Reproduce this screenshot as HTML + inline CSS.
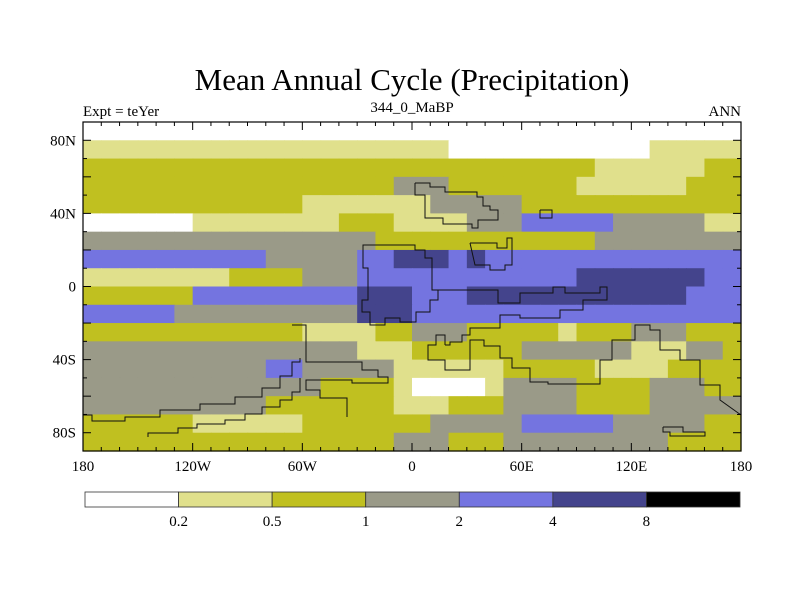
<!DOCTYPE html>
<html><head><meta charset="utf-8"><style>
html,body{margin:0;padding:0;background:#fff}
svg{display:block;font-family:"Liberation Serif",serif}
</style></head><body>
<svg id="chart" width="800" height="600" viewBox="0 0 800 600">
<rect width="800" height="600" fill="#fff"/>
<text x="412" y="90" font-size="31" text-anchor="middle">Mean Annual Cycle (Precipitation)</text>
<text x="83" y="116" font-size="15">Expt = teYer</text>
<text x="412" y="112" font-size="15" text-anchor="middle">344_0_MaBP</text>
<text x="741" y="116" font-size="15" text-anchor="end">ANN</text>
<g id="cells"></g>
<g id="coast" fill="none" stroke="#111" stroke-width="1"></g>
<rect x="83" y="122" width="658" height="329" fill="none" stroke="#000" stroke-width="1.2"/>
<g id="ticks" stroke="#000" stroke-width="1"></g>
<g id="labels" font-size="15"></g>
<g id="cbar"></g>
</svg>
<script>
const levelBounds = [0.2, 0.5, 1, 2, 4, 8];
const levelColors = ["#ffffff","#e0e08c","#c0c020","#9a9a88","#7474e0","#44448c","#000000"];
const classValue = [0.1, 0.3, 0.7, 1.5, 3, 6];
const latTicks = [80, 40, 0, -40, -80];
const latTickLabels = ["80N","40N","0","40S","80S"];
const lonTicks = [-180,-120,-60,0,60,120,180];
const lonTickLabels = ["180","120W","60W","0","60E","120E","180"];
// precipitation class per 10x10 degree cell, rows from 90N southward, columns from 180W eastward
const precipRows = [
"000000000000000000000000000000000000",
"111111111111111111110000000000011111",
"222222222222222222222222222211111122",
"222222222222222223332222222111111222",
"222222222222111111133333222222222222",
"000000111111112221111333444443333311",
"333333333333333322222222222233333333",
"444444444433333445554544444444444444",
"111111112222333444444444444555555544",
"222222444444444555444555555555555444",
"444443333333333555444444444444444444",
"222222222222111122333222221222333222",
"333333333333333111222222333333111332",
"333333333344333331111112222211112222",
"333333333333322221000013333222233322",
"333333333322222221112223333222233333",
"222222111111222222233333444443333322",
"222222222222222223332223333333332222"
];
const svgNS="http://www.w3.org/2000/svg";
const X0=83,X1=741,Y0=122,Y1=451;
function xScale(lon){return X0+(lon+180)/360*(X1-X0);}
function yScale(lat){return Y0+(90-lat)/180*(Y1-Y0);}
function colorFor(v){let i=0;while(i<levelBounds.length&&v>=levelBounds[i])i++;return levelColors[i];}
const cells=document.getElementById('cells');
precipRows.forEach((row,r)=>{
  for(let c=0;c<row.length;c++){
    const v=classValue[+row[c]];
    const lonA=-180+c*10, latA=90-r*10;
    const el=document.createElementNS(svgNS,'rect');
    
    
    const x=xScale(lonA), y=yScale(latA);
    el.setAttribute('x',x);el.setAttribute('y',y);
    el.setAttribute('width',xScale(lonA+10)-x+0.6);
    el.setAttribute('height',yScale(latA-10)-y+0.6);
    el.setAttribute('fill',colorFor(v));
    cells.appendChild(el);
  }
});
const coastPolys=[
"415,183 430,183 430,187 445,187 445,192 477,192 477,197 483,197 483,206 490,206 490,210 498,210 498,220 478,220 478,228 472,228 472,224 443,224 443,218 425,218 425,195 415,195 415,183",
"540,210 552,210 552,218 540,218 540,210",
"363,250 363,245 415,245 415,250 425,250 425,258 432,258 432,290 438,290 438,300 430,300 430,312 416,312 416,322 400,322 400,318 385,318 385,325 370,325 370,312 362,312 362,300 368,300 368,268 363,268 363,250",
"470,243 497,243 497,248 507,248 507,238 512,238 512,265 505,265 505,270 490,270 490,265 475,265 470,243",
"432,290 498,290 498,303 520,303 520,293 553,293 553,287 565,287 565,293 600,293 600,287 607,287 607,300 583,300 583,310 560,310 560,318 520,318 520,315 500,315 500,328 470,328 470,335 462,335 462,342 450,342 450,345 445,345",
"445,345 445,335 436,335 436,345 428,345 428,360 445,360 445,370 470,370 470,340 484,340 484,346 500,346 500,358 512,358 512,368 530,368 530,382 548,382 548,384 600,384 600,360 612,360 612,340 635,340 635,325 650,325 650,330 660,330 660,350 680,350 680,360 700,360 700,385 720,385 720,400 741,415",
"292,325 306,325 306,362 362,362 362,370 378,370 378,377 388,377 388,383 352,383 352,380 306,380 306,390 320,390 320,398 347,398 347,417",
"83,415 92,415 92,421 125,421 125,417 160,417 160,410 200,410 200,404 235,404 235,397 262,397 262,388 280,388 280,376 292,376 292,362 300,362 300,358",
"148,437 148,433 178,433 178,428 197,428 197,424 225,424 225,420 245,420 245,414 262,414 262,407 280,407 280,400 292,400 292,392 300,392 300,378",
"663,427 683,427 683,432 705,432 705,436 670,436 670,432 663,432 663,427"
];
const coast=document.getElementById('coast');
coastPolys.forEach(p=>{
  const el=document.createElementNS(svgNS,'polyline');
  
  
  el.setAttribute('points',p);
  coast.appendChild(el);
});
const ticks=document.getElementById('ticks');
function line(x1,y1,x2,y2){
  const el=document.createElementNS(svgNS,'line');
  
  
  el.setAttribute('x1',x1);el.setAttribute('y1',y1);el.setAttribute('x2',x2);el.setAttribute('y2',y2);
  ticks.appendChild(el);
}
for(let lon=-180;lon<=180;lon+=10){
  const len=(lon%60===0)?8:4;const x=xScale(lon);
  line(x,Y0,x,Y0+len);line(x,Y1,x,Y1-len);
}
for(let lat=-90;lat<=90;lat+=10){
  const len=(lat%20===0)?8:4;const y=yScale(lat);
  line(X0,y,X0+len,y);line(X1,y,X1-len,y);
}
const labels=document.getElementById('labels');
function txt(s,x,y,anchor,name){
  const el=document.createElementNS(svgNS,'text');
  
  
  el.setAttribute('x',x);el.setAttribute('y',y);el.setAttribute('text-anchor',anchor);
  el.textContent=s;labels.appendChild(el);
}
latTicks.forEach((lat,i)=>txt(latTickLabels[i],76,yScale(lat)+5,'end','y-tick-label'));
lonTicks.forEach((lon,i)=>txt(lonTickLabels[i],xScale(lon),471,'middle','x-tick-label'));
const cbar=document.getElementById('cbar');
const CB0=85,CB1=740,CBY=492,CBH=15,bw=(CB1-CB0)/levelColors.length;
levelColors.forEach((col,i)=>{
  const el=document.createElementNS(svgNS,'rect');
  
  
  el.setAttribute('x',CB0+i*bw);el.setAttribute('y',CBY);el.setAttribute('width',bw);el.setAttribute('height',CBH);
  el.setAttribute('fill',col);el.setAttribute('stroke','#333');el.setAttribute('stroke-width','0.8');
  cbar.appendChild(el);
});
levelBounds.forEach((b,i)=>txt(String(b),CB0+(i+1)*bw,526,'middle','colorbar-label'));
</script>
</body></html>
